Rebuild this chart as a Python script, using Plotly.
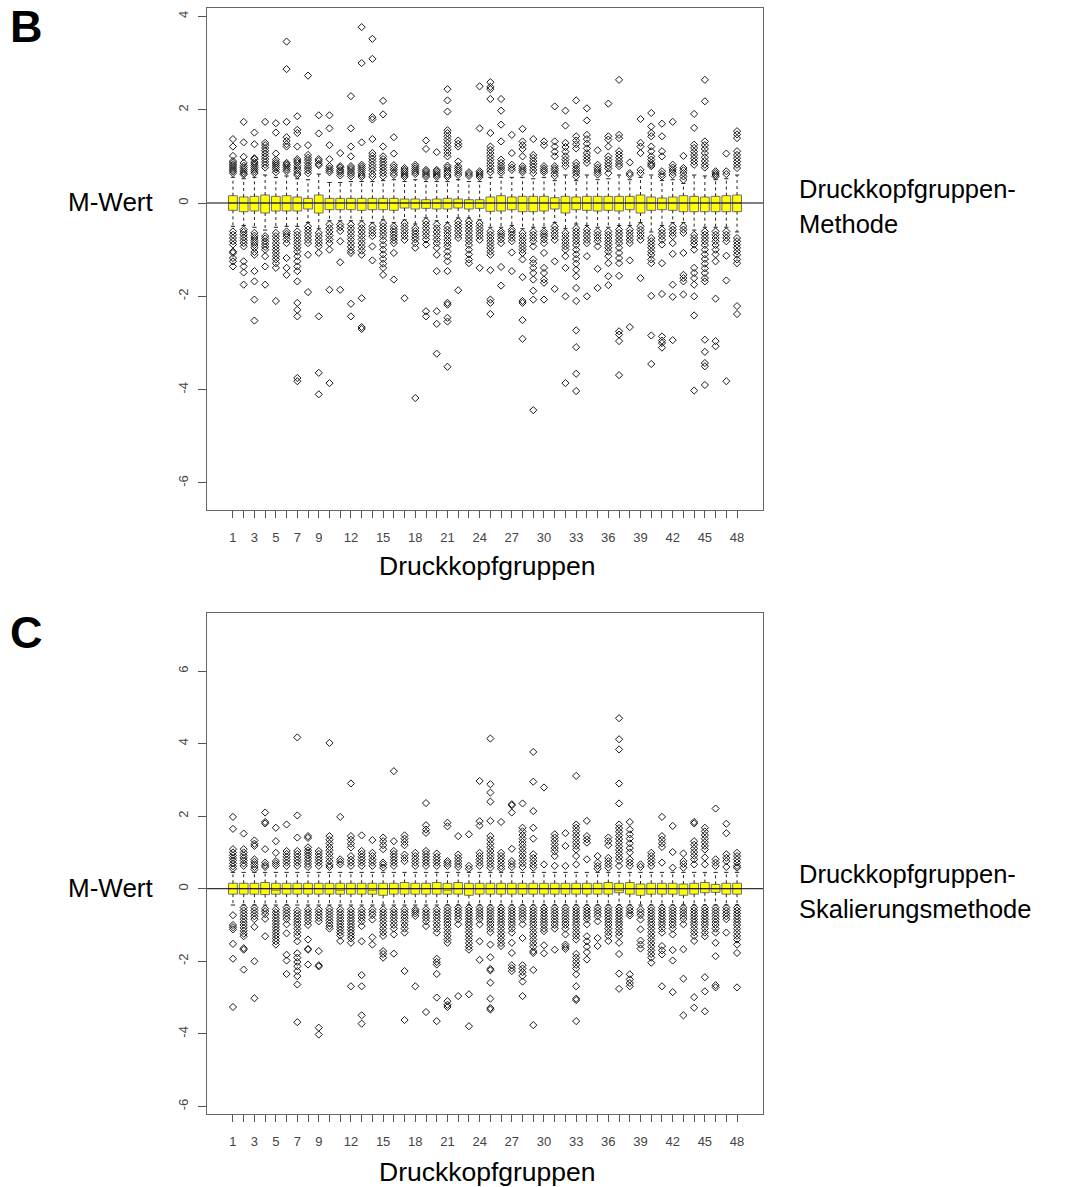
import plotly.graph_objects as go

# ---------------- data ----------------
groups = list(range(1, 49))
tick_labels = {1: "1", 3: "3", 5: "5", 7: "7", 9: "9", 12: "12", 15: "15", 18: "18", 21: "21",
               24: "24", 27: "27", 30: "30", 33: "33", 36: "36", 39: "39", 42: "42", 45: "45", 48: "48"}

# Panel B: Druckkopfgruppen-Methode
b_q3 = [0.157, 0.129, 0.143, 0.171, 0.143, 0.157, 0.129, 0.1, 0.171, 0.1, 0.1, 0.1, 0.1, 0.1, 0.1, 0.1,
        0.086, 0.086, 0.071, 0.086, 0.1, 0.086, 0.071, 0.071, 0.129, 0.157, 0.129, 0.143, 0.143, 0.143, 0.114, 0.143,
        0.129, 0.143, 0.143, 0.143, 0.143, 0.143, 0.171, 0.129, 0.107, 0.129, 0.157, 0.143, 0.129, 0.143, 0.157, 0.171]
b_med = [0.0, 0.0, 0.0, 0.0, 0.0, 0.0, 0.0, 0.0, 0.0, 0.0, 0.0, 0.0, 0.0, 0.0, 0.0, 0.0,
         0.0, 0.0, 0.0, 0.0, 0.0, 0.0, 0.0, 0.0, 0.0, 0.0, 0.0, 0.0, 0.0, 0.0, 0.0, 0.0,
         0.0, 0.0, 0.0, 0.0, 0.0, 0.0, 0.0, 0.0, 0.0, 0.0, 0.0, 0.0, 0.0, 0.0, 0.0, 0.0]
b_q1 = [-0.157, -0.186, -0.171, -0.214, -0.171, -0.171, -0.171, -0.129, -0.214, -0.143, -0.143, -0.143, -0.157, -0.143, -0.143, -0.157,
        -0.107, -0.129, -0.114, -0.129, -0.129, -0.107, -0.129, -0.114, -0.179, -0.171, -0.143, -0.186, -0.186, -0.171, -0.129, -0.214,
        -0.143, -0.157, -0.171, -0.157, -0.171, -0.143, -0.214, -0.157, -0.143, -0.157, -0.186, -0.186, -0.186, -0.186, -0.186, -0.186]
b_upw = [0.55, 0.52, 0.55, 0.6, 0.55, 0.58, 0.52, 0.5, 0.62, 0.44, 0.44, 0.46, 0.46, 0.46, 0.48, 0.5,
         0.46, 0.5, 0.46, 0.46, 0.46, 0.5, 0.46, 0.46, 0.55, 0.55, 0.55, 0.55, 0.52, 0.55, 0.48, 0.6,
         0.48, 0.6, 0.5, 0.52, 0.6, 0.5, 0.55, 0.6, 0.48, 0.5, 0.42, 0.6, 0.58, 0.5, 0.52, 0.6]
b_low = [-0.5, -0.48, -0.52, -0.58, -0.52, -0.5, -0.5, -0.42, -0.55, -0.38, -0.38, -0.38, -0.38, -0.42, -0.36, -0.42,
         -0.36, -0.45, -0.32, -0.38, -0.42, -0.32, -0.32, -0.36, -0.52, -0.52, -0.48, -0.55, -0.52, -0.52, -0.42, -0.55,
         -0.45, -0.48, -0.52, -0.52, -0.48, -0.48, -0.42, -0.62, -0.48, -0.42, -0.42, -0.58, -0.52, -0.52, -0.52, -0.62]
b_out_up = [
    [1.37, 1.21, 1.01, 0.9, 0.86, 0.82, 0.79, 0.75, 0.71, 0.68, 0.64],
    [1.74, 1.3, 0.99, 0.86, 0.8, 0.76, 0.72, 0.68, 0.64, 0.61],
    [1.51, 1.26, 0.96, 0.94, 0.88, 0.84, 0.8, 0.76, 0.72, 0.68, 0.64],
    [1.74, 1.29, 1.24, 1.18, 1.12, 1.06, 1.0, 0.94, 0.88, 0.82, 0.76],
    [1.71, 1.51, 1.06, 0.93, 0.88, 0.84, 0.8, 0.76, 0.72, 0.66],
    [3.46, 2.87, 1.74, 1.41, 1.33, 1.26, 1.21, 0.86, 0.83, 0.8, 0.76, 0.72, 0.68],
    [1.86, 1.57, 1.5, 1.21, 0.94, 0.9, 0.86, 0.8, 0.75, 0.7, 0.64, 0.6],
    [2.73, 1.24, 1.03, 0.97, 0.92, 0.86, 0.8, 0.75, 0.7, 0.64],
    [1.88, 1.49, 0.94, 0.9, 0.84, 0.81],
    [1.88, 1.6, 1.24, 0.94, 0.79, 0.74, 0.7, 0.66],
    [1.07, 0.79, 0.76, 0.71, 0.68, 0.64, 0.59],
    [2.29, 1.6, 1.21, 1.0, 0.79, 0.75, 0.71, 0.66, 0.62, 0.57],
    [3.77, 3.0, 1.3, 0.82, 0.78, 0.74, 0.7, 0.65, 0.6, 0.56],
    [3.52, 3.09, 1.84, 1.79, 1.37, 1.07, 1.01, 0.95, 0.89, 0.82, 0.76, 0.7, 0.62, 0.56],
    [2.19, 1.9, 1.21, 1.0, 0.94, 0.88, 0.82, 0.76, 0.7, 0.64, 0.57],
    [1.41, 1.06, 0.81, 0.76, 0.71, 0.65, 0.6],
    [0.75, 0.71, 0.68, 0.64, 0.6, 0.56],
    [0.82, 0.78, 0.74, 0.7, 0.66, 0.62],
    [1.34, 1.16, 0.71, 0.68, 0.64, 0.6, 0.56],
    [1.09, 0.71, 0.68, 0.64, 0.6, 0.56],
    [2.44, 2.2, 1.96, 1.56, 1.5, 1.43, 1.36, 1.29, 1.21, 1.14, 1.07, 1.0, 0.8, 0.76, 0.71, 0.66, 0.6, 0.56],
    [1.34, 1.27, 1.21, 0.89, 0.79, 0.74, 0.7, 0.65, 0.6],
    [0.66, 0.62, 0.58],
    [2.5, 1.6, 0.68, 0.64, 0.6, 0.56],
    [2.59, 2.49, 2.44, 2.23, 1.5, 1.21, 1.14, 1.07, 1.0, 0.93, 0.86, 0.79, 0.72, 0.66],
    [2.23, 1.98, 1.68, 1.32, 0.93, 0.86, 0.8, 0.75, 0.7, 0.65],
    [1.46, 1.07, 0.82, 0.76, 0.71],
    [1.59, 1.32, 1.24, 1.16, 1.0, 0.79, 0.74, 0.7, 0.66],
    [1.37, 1.03, 0.97, 0.9, 0.84, 0.78, 0.71, 0.64],
    [1.32, 1.24, 0.79, 0.74, 0.7, 0.66],
    [2.07, 1.32, 1.21, 1.1, 1.0, 0.79, 0.74, 0.7, 0.64, 0.58],
    [1.98, 1.66, 1.29, 1.2, 1.1, 1.0, 0.93, 0.86, 0.79],
    [2.2, 1.43, 1.34, 1.26, 1.17, 0.86, 0.8, 0.74, 0.69, 0.64, 0.57],
    [2.03, 1.77, 1.46, 1.37, 1.27, 1.17, 1.07, 1.0, 0.93, 0.86],
    [1.13, 0.82, 0.76, 0.71, 0.66, 0.61],
    [2.13, 1.43, 1.36, 1.21, 1.0, 0.93, 0.86, 0.8, 0.74, 0.64],
    [2.64, 1.46, 1.39, 1.11, 1.04, 0.97, 0.9, 0.84, 0.79],
    [0.87, 0.64, 0.6],
    [1.8, 1.29, 1.21, 1.07, 0.71, 0.64],
    [1.93, 1.64, 1.5, 1.43, 1.21, 1.11, 1.0, 0.93, 0.86, 0.82, 0.79],
    [1.7, 1.43, 1.11, 1.0, 0.68, 0.62, 0.57],
    [1.74, 0.82, 0.76, 0.71, 0.66, 0.6],
    [1.01, 0.75, 0.7, 0.64, 0.57, 0.5],
    [1.91, 1.61, 1.25, 1.18, 1.1, 1.03, 0.96, 0.89, 0.82],
    [2.64, 2.18, 1.32, 1.24, 1.16, 1.07, 0.98, 0.9, 0.82, 0.76],
    [0.68, 0.64, 0.6, 0.57],
    [1.06, 0.68, 0.62],
    [1.54, 1.47, 1.39, 1.11, 1.03, 0.96, 0.89, 0.82, 0.75],
]
b_out_low = [
    [-0.61, -0.68, -0.75, -0.82, -0.89, -1.04, -1.07, -1.18, -1.25, -1.36],
    [-0.57, -0.62, -0.68, -0.74, -0.8, -0.86, -0.93, -1.25, -1.36, -1.49, -1.75],
    [-0.64, -0.7, -0.75, -0.8, -0.85, -0.9, -0.96, -1.05, -1.11, -1.46, -1.68, -2.07, -2.52],
    [-0.71, -0.76, -0.82, -0.88, -0.94, -1.0, -1.14, -1.36, -1.75],
    [-0.64, -0.71, -0.78, -0.86, -0.93, -1.0, -1.07, -1.14, -1.21, -1.29, -1.39, -2.1],
    [-0.61, -0.66, -0.71, -0.78, -0.86, -1.18, -1.39, -1.54],
    [-0.61, -0.68, -0.75, -0.82, -0.89, -0.96, -1.04, -1.14, -1.25, -1.36, -1.46, -1.68, -2.14, -2.29, -2.43, -3.75, -3.82],
    [-0.5, -0.57, -0.64, -0.71, -0.79, -0.86, -1.11, -1.91],
    [-0.64, -0.71, -0.79, -0.86, -0.93, -1.07, -2.43, -3.64, -4.1],
    [-0.46, -0.54, -0.62, -0.7, -0.78, -0.86, -1.0, -1.86, -3.86],
    [-0.46, -0.52, -0.6, -0.82, -1.27, -1.86],
    [-0.46, -0.54, -0.62, -0.7, -0.78, -0.86, -0.94, -1.02, -1.07, -2.16, -2.43],
    [-0.46, -0.54, -0.62, -0.7, -0.78, -0.86, -0.94, -1.02, -1.11, -2.04, -2.66, -2.7],
    [-0.5, -0.57, -0.64, -0.71, -0.93, -1.23],
    [-0.43, -0.5, -0.57, -0.64, -0.71, -0.8, -0.9, -1.0, -1.1, -1.2, -1.3, -1.39, -1.54],
    [-0.5, -0.56, -0.62, -0.68, -0.74, -0.8, -0.86, -1.07, -1.64],
    [-0.43, -0.5, -0.57, -0.64, -0.71, -0.79, -2.04],
    [-0.54, -0.6, -0.66, -0.72, -0.78, -0.86, -0.96, -4.18],
    [-0.39, -0.46, -0.54, -0.62, -0.7, -0.78, -0.89, -2.32, -2.43],
    [-0.46, -0.54, -0.62, -0.7, -0.78, -0.86, -0.96, -1.11, -1.46, -2.32, -2.59, -3.23],
    [-0.5, -0.57, -0.64, -0.71, -0.79, -0.86, -0.93, -1.04, -1.14, -1.25, -1.46, -2.14, -2.18, -2.46, -2.54, -3.51],
    [-0.39, -0.46, -0.53, -0.6, -0.68, -0.75, -1.87],
    [-0.39, -0.46, -0.53, -0.6, -0.68, -0.75, -0.82, -0.9, -1.0, -1.1, -1.21, -1.29],
    [-0.43, -0.5, -0.57, -0.64, -0.71, -0.79, -1.39],
    [-0.61, -0.68, -0.75, -0.82, -0.89, -0.96, -1.04, -1.11, -1.44, -2.07, -2.14, -2.38],
    [-0.61, -0.66, -0.71, -0.78, -0.86, -1.37, -1.77],
    [-0.57, -0.62, -0.68, -0.75, -0.82, -1.06, -1.46],
    [-0.64, -0.71, -0.79, -0.86, -0.93, -1.0, -1.07, -1.21, -1.59, -2.1, -2.14, -2.51, -2.91],
    [-0.61, -0.68, -0.75, -0.82, -0.93, -1.21, -1.29, -1.39, -1.5, -1.64, -1.88, -2.07, -4.44],
    [-0.61, -0.66, -0.71, -0.78, -0.86, -1.07, -1.39, -1.5, -1.64, -1.71, -2.07],
    [-0.5, -0.57, -0.64, -0.71, -0.79, -1.25, -1.84],
    [-0.64, -0.71, -0.79, -0.86, -0.93, -1.0, -1.14, -1.39, -2.0, -3.86],
    [-0.54, -0.61, -0.68, -0.75, -0.82, -0.9, -1.0, -1.1, -1.2, -1.3, -1.43, -1.57, -1.82, -2.1, -2.73, -3.09, -3.66, -4.03],
    [-0.57, -0.64, -0.71, -0.79, -0.86, -1.14, -2.0],
    [-0.61, -0.68, -0.75, -0.82, -0.93, -1.41, -1.82],
    [-0.61, -0.68, -0.75, -0.82, -0.89, -0.96, -1.04, -1.14, -1.29, -1.57, -1.76],
    [-0.57, -0.64, -0.71, -0.79, -0.86, -0.96, -1.07, -1.18, -1.29, -1.56, -2.75, -2.82, -2.96, -3.69],
    [-0.57, -0.64, -0.71, -0.79, -0.86, -1.23, -2.66],
    [-0.5, -0.57, -0.64, -0.71, -0.79, -1.61],
    [-0.75, -0.82, -0.89, -0.96, -1.04, -1.11, -1.21, -1.29, -1.99, -2.84, -3.45],
    [-0.57, -0.64, -0.71, -0.79, -0.89, -1.29, -1.95, -2.86, -2.95, -3.0, -3.1],
    [-0.5, -0.57, -0.64, -0.71, -0.86, -1.09, -1.75, -2.01, -2.94],
    [-0.5, -0.57, -0.64, -1.07, -1.54, -1.61, -1.68, -1.96],
    [-0.68, -0.75, -0.82, -0.89, -1.0, -1.39, -1.5, -1.61, -1.75, -2.0, -2.41, -4.02],
    [-0.61, -0.68, -0.75, -0.82, -0.9, -1.0, -1.1, -1.2, -1.3, -1.4, -1.5, -1.61, -1.68, -2.93, -3.19, -3.43, -3.5, -3.9],
    [-0.61, -0.68, -0.75, -0.82, -0.9, -1.0, -1.1, -1.25, -2.05, -2.96, -3.07],
    [-0.61, -0.68, -0.75, -0.82, -1.13, -1.66, -3.82],
    [-0.75, -0.82, -0.89, -0.96, -1.04, -1.11, -1.21, -1.29, -2.21, -2.38],
]

# Panel C: Druckkopfgruppen-Skalierungsmethode
c_q3 = [0.15, 0.15, 0.15, 0.17, 0.15, 0.15, 0.15, 0.15, 0.15, 0.15, 0.15, 0.15, 0.15, 0.15, 0.15, 0.15,
        0.17, 0.15, 0.15, 0.17, 0.15, 0.17, 0.15, 0.15, 0.15, 0.15, 0.15, 0.15, 0.15, 0.15, 0.15, 0.15,
        0.15, 0.15, 0.15, 0.17, 0.15, 0.17, 0.13, 0.15, 0.15, 0.15, 0.13, 0.15, 0.17, 0.12, 0.15, 0.15]
c_med = [0.0, 0.0, 0.0, 0.0, -0.04, 0.0, 0.0, 0.0, 0.0, 0.0, -0.04, 0.0, 0.0, -0.04, 0.0, 0.0,
         0.0, 0.0, 0.0, 0.0, -0.04, 0.0, 0.0, 0.0, 0.0, 0.0, 0.0, 0.0, 0.0, 0.0, 0.0, 0.0,
         0.0, 0.0, 0.0, 0.0, -0.04, 0.0, 0.0, 0.0, 0.0, 0.0, 0.0, 0.0, 0.0, 0.0, 0.0, 0.0]
c_q1 = [-0.15, -0.15, -0.15, -0.16, -0.15, -0.15, -0.15, -0.15, -0.15, -0.15, -0.15, -0.15, -0.15, -0.15, -0.18, -0.15,
        -0.15, -0.15, -0.15, -0.15, -0.15, -0.15, -0.18, -0.15, -0.15, -0.15, -0.15, -0.15, -0.15, -0.15, -0.15, -0.15,
        -0.15, -0.15, -0.15, -0.15, -0.11, -0.15, -0.18, -0.15, -0.15, -0.15, -0.18, -0.15, -0.11, -0.1, -0.15, -0.15]
c_upw = [0.45, 0.45, 0.45, 0.45, 0.45, 0.45, 0.45, 0.45, 0.45, 0.45, 0.45, 0.45, 0.45, 0.45, 0.45, 0.45,
         0.45, 0.45, 0.45, 0.45, 0.45, 0.45, 0.45, 0.45, 0.45, 0.45, 0.45, 0.45, 0.45, 0.45, 0.45, 0.45,
         0.45, 0.45, 0.45, 0.45, 0.45, 0.45, 0.45, 0.45, 0.45, 0.45, 0.45, 0.45, 0.45, 0.45, 0.45, 0.45]
c_low = [-0.45, -0.45, -0.45, -0.45, -0.45, -0.45, -0.45, -0.45, -0.45, -0.45, -0.45, -0.45, -0.45, -0.45, -0.45, -0.45,
         -0.45, -0.45, -0.45, -0.45, -0.45, -0.45, -0.45, -0.45, -0.45, -0.45, -0.45, -0.45, -0.45, -0.45, -0.45, -0.45,
         -0.45, -0.45, -0.45, -0.45, -0.45, -0.45, -0.45, -0.45, -0.45, -0.45, -0.45, -0.45, -0.45, -0.45, -0.45, -0.45]
c_out_up = [
    [1.98, 1.65, 1.09, 1.0, 0.92, 0.85, 0.78, 0.7, 0.62, 0.55],
    [1.52, 1.09, 1.0, 0.92, 0.85, 0.78, 0.7, 0.63],
    [1.33, 1.24, 1.18, 0.81, 0.74, 0.67, 0.6, 0.53],
    [2.1, 1.84, 1.8, 1.09, 0.72, 0.65, 0.6],
    [1.68, 1.31, 0.99, 0.76, 0.7, 0.64],
    [1.77, 1.04, 0.96, 0.88, 0.8, 0.72, 0.63],
    [4.17, 2.02, 1.41, 1.04, 0.96, 0.88, 0.8, 0.72, 0.63],
    [1.45, 1.4, 1.14, 1.06, 0.99, 0.92, 0.84, 0.76, 0.68, 0.6],
    [1.04, 0.96, 0.88, 0.8, 0.72, 0.63],
    [4.02, 1.45, 1.35, 1.25, 1.15, 1.06, 0.96, 0.86, 0.76, 0.66, 0.6],
    [1.98, 0.81, 0.74, 0.67],
    [2.9, 1.45, 1.35, 1.24, 1.14, 0.9, 0.8, 0.72, 0.63],
    [1.47, 1.04, 0.96, 0.88, 0.8, 0.72, 0.63],
    [1.34, 0.99, 0.9, 0.8, 0.72, 0.63],
    [1.41, 1.31, 1.2, 1.09, 0.72, 0.66, 0.58],
    [3.24, 1.31, 1.04, 0.96, 0.88, 0.8, 0.72, 0.63],
    [1.47, 1.38, 1.29, 1.2, 0.94, 0.85, 0.76],
    [0.99, 0.9, 0.81, 0.72, 0.63],
    [2.36, 1.75, 1.63, 1.54, 1.04, 0.96, 0.88, 0.8, 0.72, 0.63],
    [0.97, 0.88, 0.8, 0.72, 0.63],
    [1.82, 1.72, 0.76, 0.7, 0.63],
    [1.45, 0.94, 0.85, 0.76, 0.68, 0.6],
    [1.5, 0.63, 0.55],
    [2.97, 1.86, 1.74, 0.99, 0.9, 0.81, 0.72, 0.63],
    [4.14, 2.88, 2.65, 2.4, 1.87, 1.45, 1.35, 1.24, 1.14, 1.04, 0.94, 0.85, 0.76, 0.67, 0.58],
    [1.84, 0.99, 0.9, 0.81, 0.72, 0.62, 0.55],
    [2.33, 2.3, 2.1, 1.1, 0.76, 0.68, 0.6],
    [2.35, 1.68, 1.58, 1.48, 1.38, 1.29, 1.2, 1.1, 1.0, 0.9, 0.8, 0.7, 0.6],
    [3.77, 2.95, 2.14, 1.68, 1.38, 0.95, 0.85, 0.76, 0.66, 0.58],
    [2.79, 0.67],
    [1.5, 1.41, 1.32, 1.22, 1.12, 1.03, 0.9, 0.63],
    [1.53, 1.18, 0.63],
    [3.11, 1.77, 1.68, 1.58, 1.48, 1.38, 1.28, 1.18, 1.08, 0.9, 0.67],
    [1.87, 1.45, 1.36, 1.27, 0.81],
    [0.9, 0.72, 0.63, 0.55],
    [1.41, 1.31, 1.2, 0.85, 0.76, 0.67, 0.58],
    [4.7, 4.12, 3.84, 2.9, 2.35, 1.77, 1.67, 1.57, 1.47, 1.37, 1.27, 1.17, 1.07, 0.97, 0.87, 0.77, 0.63],
    [1.84, 1.63, 1.5, 1.38, 1.25, 1.12, 1.0, 0.81, 0.72, 0.63],
    [0.67, 0.6],
    [0.99, 0.9, 0.81, 0.72, 0.63],
    [1.98, 1.45, 1.35, 1.25, 1.15, 0.72],
    [1.73, 1.01, 0.58],
    [0.97, 0.76, 0.68, 0.58],
    [1.84, 1.8, 1.31, 1.21, 1.11, 1.01, 0.91, 0.81, 0.67],
    [1.68, 1.58, 1.48, 1.38, 1.28, 1.18, 1.08, 0.86, 0.67],
    [2.21, 0.81, 0.72, 0.63],
    [1.79, 1.53, 0.95, 0.85, 0.76, 0.6],
    [0.99, 0.9, 0.81, 0.72, 0.63, 0.58],
]
c_out_low = [
    [-0.73, -1.0, -1.06, -1.12, -1.52, -1.93, -3.26],
    [-0.52, -0.6, -0.68, -0.76, -0.84, -0.92, -1.0, -1.08, -1.16, -1.24, -1.31, -1.64, -1.68, -2.23],
    [-0.52, -0.6, -0.68, -0.76, -0.84, -1.05, -2.0, -3.02],
    [-0.55, -0.62, -0.7, -0.83, -1.31],
    [-0.57, -0.65, -0.73, -0.81, -0.89, -0.97, -1.05, -1.13, -1.21, -1.29, -1.37, -1.45, -1.54],
    [-0.52, -0.6, -0.68, -0.76, -0.84, -0.98, -1.23, -1.82, -1.98, -2.35],
    [-0.6, -0.68, -0.76, -0.84, -0.92, -1.0, -1.1, -1.2, -1.3, -1.45, -1.78, -1.9, -2.02, -2.14, -2.27, -2.41, -2.64, -3.68],
    [-0.57, -0.65, -0.73, -0.81, -0.9, -1.0, -1.4, -1.66, -1.68, -2.09],
    [-0.57, -0.65, -0.73, -0.81, -0.9, -1.72, -2.11, -2.14, -3.83, -4.02],
    [-0.55, -0.63, -0.71, -0.79, -0.87, -0.95, -1.03, -1.1],
    [-0.57, -0.65, -0.73, -0.81, -0.89, -0.97, -1.05, -1.13, -1.21, -1.29, -1.44],
    [-0.57, -0.65, -0.73, -0.81, -0.89, -0.97, -1.05, -1.13, -1.21, -1.29, -1.37, -1.49, -2.69],
    [-0.57, -0.65, -0.73, -0.81, -0.9, -1.03, -1.45, -2.38, -2.69, -3.49, -3.72],
    [-0.57, -0.65, -0.73, -0.85, -1.34, -1.54],
    [-0.57, -0.65, -0.73, -0.81, -0.9, -1.0, -1.1, -1.2, -1.3, -1.72, -1.8, -1.9],
    [-0.57, -0.65, -0.73, -0.81, -0.9, -1.0, -1.1, -1.26, -1.79],
    [-0.57, -0.65, -0.73, -0.81, -0.9, -1.0, -1.1, -1.21, -2.27, -3.62],
    [-0.57, -0.62, -0.68, -0.75, -2.69],
    [-0.57, -0.65, -0.73, -0.81, -0.9, -1.03, -3.4],
    [-0.57, -0.65, -0.73, -0.81, -0.9, -1.0, -1.1, -1.21, -1.93, -2.02, -2.09, -2.35, -3.0, -3.65],
    [-0.52, -0.6, -0.68, -0.76, -0.84, -0.92, -1.0, -1.1, -1.2, -1.3, -1.4, -1.49, -3.1, -3.2, -3.26],
    [-0.52, -0.6, -0.68, -0.76, -0.84, -0.98, -2.96],
    [-0.52, -0.6, -0.68, -0.76, -0.84, -0.92, -1.0, -1.1, -1.2, -1.3, -1.4, -1.5, -1.6, -1.68, -2.91, -3.79],
    [-0.52, -0.6, -0.68, -0.76, -0.84, -0.98, -1.45, -1.96],
    [-0.52, -0.6, -0.68, -0.76, -0.84, -0.92, -1.0, -1.1, -1.2, -1.54, -1.89, -2.21, -2.25, -2.59, -3.03, -3.29, -3.33],
    [-0.52, -0.6, -0.68, -0.76, -0.84, -0.92, -1.0, -1.1, -1.2, -1.3, -1.4, -1.5, -1.58],
    [-0.52, -0.6, -0.68, -0.76, -0.84, -0.92, -1.0, -1.1, -1.21, -1.49, -1.77, -2.11, -2.19, -2.27],
    [-0.52, -0.6, -0.68, -0.76, -0.84, -0.98, -1.36, -2.11, -2.2, -2.3, -2.4, -2.56, -2.96],
    [-0.52, -0.6, -0.68, -0.76, -0.84, -0.92, -1.0, -1.1, -1.2, -1.3, -1.4, -1.5, -1.6, -1.72, -1.77, -2.24, -3.76],
    [-0.52, -0.6, -0.68, -0.76, -0.84, -0.92, -1.0, -1.1, -1.17, -1.56, -1.78],
    [-0.52, -0.6, -0.68, -0.76, -0.84, -0.92, -1.0, -1.1, -1.68],
    [-0.52, -0.6, -0.68, -0.76, -0.84, -0.92, -1.0, -1.1, -1.26, -1.54, -1.6, -1.66],
    [-0.52, -0.6, -0.68, -0.76, -0.84, -0.92, -1.0, -1.1, -1.2, -1.3, -1.4, -1.8, -1.9, -2.0, -2.1, -2.2, -2.36, -2.69, -3.03, -3.07, -3.65],
    [-0.52, -0.6, -0.68, -0.76, -0.84, -0.98, -1.31, -1.45, -1.6, -1.75, -1.95],
    [-0.52, -0.6, -0.68, -0.76, -0.9, -1.36, -1.58],
    [-0.52, -0.6, -0.68, -0.76, -0.84, -0.92, -1.0, -1.1, -1.2, -1.3, -1.44],
    [-0.52, -0.6, -0.68, -0.76, -0.84, -0.92, -1.0, -1.1, -1.2, -1.3, -1.49, -1.8, -2.34, -2.76],
    [-0.52, -0.6, -0.68, -0.74, -2.36, -2.5, -2.6, -2.69],
    [-0.57, -0.65, -0.73, -0.85, -1.12, -1.43, -1.54, -1.65],
    [-0.52, -0.6, -0.68, -0.76, -0.84, -0.92, -1.0, -1.1, -1.2, -1.3, -1.4, -1.5, -1.6, -1.7, -1.8, -1.9, -2.04],
    [-0.52, -0.6, -0.68, -0.76, -0.84, -0.92, -1.0, -1.1, -1.21, -1.58, -1.7, -1.81, -2.69],
    [-0.52, -0.6, -0.68, -0.76, -0.84, -0.92, -1.0, -1.1, -1.26, -1.69, -1.98, -2.85],
    [-0.52, -0.6, -0.68, -0.76, -0.84, -0.98, -1.67, -2.48, -3.49],
    [-0.52, -0.6, -0.68, -0.76, -0.84, -0.92, -1.0, -1.1, -1.2, -1.3, -1.44, -2.99, -3.28],
    [-0.52, -0.6, -0.68, -0.76, -0.84, -0.92, -1.0, -1.1, -1.21, -1.31, -2.44, -2.83, -3.38],
    [-0.52, -0.6, -0.68, -0.76, -0.84, -0.92, -1.0, -1.1, -1.21, -1.49, -1.86, -2.66, -2.72],
    [-0.52, -0.6, -0.68, -0.76, -0.84, -1.21],
    [-0.52, -0.6, -0.68, -0.76, -0.84, -0.92, -1.0, -1.1, -1.2, -1.3, -1.4, -1.54, -1.77, -2.72],
]

b_yticks = [-6, -4, -2, 0, 2, 4]
c_yticks = [-6, -4, -2, 0, 2, 4, 6]

# ---------------- figure ----------------
W, H = 1085, 1187
FONT = "Liberation Sans, Arial, Helvetica, sans-serif"
BOX_FILL = "#FFFF00"
BOX_LINE = "#6e6e6e"


def px(x):
    return x / W


def py(y):
    return 1 - y / H


fig = go.Figure()


def add_panel(xa, ya, q1, med, q3, lo, up, out_up, out_low):
    fig.add_trace(go.Box(
        x=groups, q1=q1, median=med, q3=q3, lowerfence=q1, upperfence=q3,
        xaxis=xa, yaxis=ya, width=0.82, whiskerwidth=0,
        fillcolor=BOX_FILL, line=dict(color=BOX_LINE, width=1),
        boxpoints=False, showlegend=False, hoverinfo="skip"))
    wx, wy, cx, cy = [], [], [], []
    for g, a, b, c, d in zip(groups, q1, q3, lo, up):
        wx += [g, g, None, g, g, None]
        wy += [b, d, None, a, c, None]
        cx += [g - 0.2, g + 0.2, None, g - 0.2, g + 0.2, None]
        cy += [d, d, None, c, c, None]
    fig.add_trace(go.Scatter(x=wx, y=wy, mode="lines", xaxis=xa, yaxis=ya,
                             line=dict(color="#222222", width=1, dash="3px,3px"),
                             showlegend=False, hoverinfo="skip"))
    fig.add_trace(go.Scatter(x=cx, y=cy, mode="lines", xaxis=xa, yaxis=ya,
                             line=dict(color="#222222", width=1),
                             showlegend=False, hoverinfo="skip"))
    ox, oy = [], []
    for g, u, l in zip(groups, out_up, out_low):
        for v in u + l:
            ox.append(g)
            oy.append(v)
    fig.add_trace(go.Scatter(x=ox, y=oy, mode="markers", xaxis=xa, yaxis=ya,
                             marker=dict(symbol="diamond-open", size=5.5, color="#1a1a1a",
                                         line=dict(width=1)),
                             showlegend=False, hoverinfo="skip"))


add_panel("x", "y", b_q1, b_med, b_q3, b_low, b_upw, b_out_up, b_out_low)
add_panel("x2", "y2", c_q1, c_med, c_q3, c_low, c_upw, c_out_up, c_out_low)

xdom = [px(207), px(763)]
xcommon = dict(range=[-1.42, 50.42], tickmode="array", tickvals=groups,
               ticktext=[tick_labels.get(g, "") for g in groups],
               ticks="outside", ticklen=7, tickcolor="#555555",
               tickfont=dict(family=FONT, size=13, color="#444444"),
               showgrid=False, zeroline=False, showline=True, mirror=True,
               linecolor="#666666", linewidth=1, ticklabelstandoff=8)
ycommon = dict(tickmode="array", ticks="outside", ticklen=8, tickcolor="#555555",
               tickangle=-90, tickfont=dict(family=FONT, size=13, color="#444444"),
               showgrid=False, zeroline=False, showline=True, mirror=True,
               linecolor="#666666", linewidth=1, ticklabelstandoff=5)

fig.update_layout(
    width=W, height=H, margin=dict(l=0, r=0, t=0, b=0),
    paper_bgcolor="white", plot_bgcolor="white",
    xaxis=dict(domain=xdom, anchor="y", **xcommon),
    yaxis=dict(domain=[py(510), py(8)], anchor="x", range=[-6.58, 4.18],
               tickvals=b_yticks, ticktext=[str(v) for v in b_yticks], **ycommon),
    xaxis2=dict(domain=xdom, anchor="y2", **xcommon),
    yaxis2=dict(domain=[py(1114), py(613)], anchor="x2", range=[-6.21, 7.6],
                tickvals=c_yticks, ticktext=[str(v) for v in c_yticks], **ycommon),
)

# zero reference lines
fig.add_shape(type="line", xref="x domain", yref="y", x0=0, x1=1, y0=0, y1=0,
              line=dict(color="black", width=1), layer="above")
fig.add_shape(type="line", xref="x2 domain", yref="y2", x0=0, x1=1, y0=0, y1=0,
              line=dict(color="black", width=1), layer="above")


def ann(text, x, y, size, xanchor="left", bold=False):
    fig.add_annotation(text=("<b>%s</b>" % text) if bold else text,
                       x=px(x), y=py(y), xref="paper", yref="paper",
                       xanchor=xanchor, yanchor="middle", showarrow=False,
                       font=dict(family=FONT, size=size, color="black"))


ann("B", 8, 26, 45, bold=True)
ann("C", 8, 632, 45, bold=True)
ann("M-Wert", 156, 202, 26, xanchor="right")
ann("M-Wert", 156, 888, 26, xanchor="right")
ann("Druckkopfgruppen", 487, 566, 26.5, xanchor="center")
ann("Druckkopfgruppen", 487, 1172, 26.5, xanchor="center")
ann("Druckkopfgruppen-", 797, 189, 25.5)
ann("Methode", 797, 224, 25.5)
ann("Druckkopfgruppen-", 797, 874, 25.5)
ann("Skalierungsmethode", 797, 909, 25.5)

fig.write_html("out.html",
               config={"displayModeBar": False},
               post_script="document.body.style.margin='0';document.body.style.padding='0';"
                           "document.documentElement.style.overflow='hidden';")
